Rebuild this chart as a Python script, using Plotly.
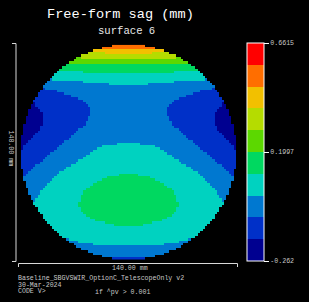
import plotly.graph_objects as go

W, H = 309, 302
FONT = "Liberation Mono"

BAND_COLORS = ["#000090", "#0030c8", "#0078d0", "#00d2c0", "#00d860",
               "#5cd800", "#b5dc00", "#f2c000", "#ff6e00", "#ff0000"]
SAG_MIN, SAG_MID, SAG_MAX = -0.262, 0.1997, 0.6615
BAND_SAG = [-0.216, -0.124, -0.031, 0.061, 0.154, 0.246, 0.338, 0.431, 0.523, 0.615]
TICK_LABELS = ["-0.262", "0.1997", "0.6615"]

TITLE = "Free-form sag (mm)"
SUBTITLE = "surface 6"
SCALE_LABEL = "140.00 mm"
FOOTER = ["Baseline_SBGVSWIR_OptionC_TelescopeOnly v2", "30-Mar-2024", "CODE V>"]
FOOTER_NOTE = "if ^pv > 0.001"

# first filled column of each row of the aperture (left half, the map is mirror-symmetric)
ROW_START = [38, 34, 30, 28, 25, 23, 22, 20, 19, 17, 16, 15, 14, 13, 12, 11, 10, 9, 9, 8,
             7, 7, 6, 5, 5, 4, 4, 3, 3, 3, 2, 2, 2, 1, 1, 1, 1, 1, 0, 0,
             0, 0, 0, 0, 0, 0, 0, 0, 0, 0, 0, 0, 1, 1, 1, 1, 1, 2, 2, 2,
             3, 3, 3, 4, 4, 5, 5, 6, 7, 7, 8, 9, 9, 10, 11, 12, 13, 14, 15, 16,
             17, 19, 20, 22, 23, 25, 28, 30, 34, 38]

# band, end column, band, end column ... for each row, left edge to centre
ROW_BANDS = [
    [8, 45], [8, 45], [7, 45], [6, 35, 7, 45], [6, 45], [5, 25, 6, 45], [5, 45], [5, 45],
    [4, 45], [4, 45], [4, 45], [3, 26, 4, 45], [3, 45], [3, 45], [2, 13, 3, 45],
    [2, 26, 3, 45], [2, 37, 3, 45], [2, 45], [1, 10, 2, 45], [1, 15, 2, 45],
    [1, 18, 2, 45], [1, 21, 2, 45], [1, 24, 2, 45], [1, 26, 2, 45],
    [0, 6, 1, 27, 2, 45], [0, 6, 1, 28, 2, 45], [0, 7, 1, 29, 2, 45], [0, 8, 1, 29, 2, 45],
    [0, 9, 1, 29, 2, 45], [0, 9, 1, 29, 2, 45], [0, 9, 1, 28, 2, 45], [0, 9, 1, 28, 2, 45],
    [0, 9, 1, 27, 2, 45], [0, 9, 1, 27, 2, 45], [0, 8, 1, 26, 2, 45], [0, 8, 1, 24, 2, 45],
    [0, 7, 1, 23, 2, 45], [0, 6, 1, 22, 2, 45], [0, 5, 1, 21, 2, 45], [0, 4, 1, 20, 2, 45],
    [0, 3, 1, 18, 2, 45], [0, 2, 1, 17, 2, 40, 3, 45], [0, 1, 1, 16, 2, 34, 3, 45],
    [0, 1, 1, 15, 2, 32, 3, 45], [1, 14, 2, 30, 3, 45], [1, 12, 2, 29, 3, 45],
    [1, 11, 2, 27, 3, 45], [1, 10, 2, 26, 3, 45], [1, 9, 2, 24, 3, 45], [1, 8, 2, 23, 3, 45],
    [1, 6, 2, 21, 3, 45], [1, 5, 2, 19, 3, 45], [1, 4, 2, 18, 3, 45], [1, 3, 2, 16, 3, 45],
    [1, 2, 2, 15, 3, 41, 4, 45], [2, 14, 3, 36, 4, 45], [2, 13, 3, 34, 4, 45],
    [2, 12, 3, 32, 4, 45], [2, 11, 3, 30, 4, 45], [2, 10, 3, 29, 4, 45], [2, 9, 3, 27, 4, 45],
    [2, 8, 3, 26, 4, 45], [2, 8, 3, 26, 4, 45], [2, 7, 3, 25, 4, 45], [2, 6, 3, 25, 4, 45],
    [2, 6, 3, 25, 4, 45], [3, 24, 4, 45], [3, 24, 4, 45], [3, 25, 4, 45], [3, 25, 4, 45],
    [3, 26, 4, 45], [3, 27, 4, 45], [3, 29, 4, 45], [3, 31, 4, 45], [3, 35, 4, 45],
    [3, 39, 4, 45], [3, 45], [3, 45], [3, 45], [3, 45], [3, 45], [2, 20, 3, 45],
    [2, 24, 3, 45], [2, 30, 3, 45], [2, 45], [2, 45], [2, 45], [2, 45], [2, 45], [1, 45],
]


def expand(start, runs):
    half = [None] * start
    for k in range(0, len(runs), 2):
        half += [BAND_SAG[runs[k]]] * (runs[k + 1] - len(half))
    return half + half[::-1]


z = [expand(s, r) for s, r in zip(ROW_START, ROW_BANDS)]

n = len(BAND_COLORS)
scale = []
for k, c in enumerate(BAND_COLORS):
    scale += [[k / n, c], [(k + 1) / n, c]]


def px(x):
    return x / W


def py(y):
    return 1 - y / H


fig = go.Figure(go.Heatmap(
    z=z, colorscale=scale, zmin=SAG_MIN, zmax=SAG_MAX, hoverinfo="skip",
    colorbar=dict(
        x=px(247), xanchor="left", xpad=0, y=py(152), yanchor="middle", ypad=0,
        lenmode="pixels", len=218, thicknessmode="pixels", thickness=17,
        outlinecolor="#ffffff", outlinewidth=1, bordercolor="#000000", borderwidth=0,
        tickmode="array", tickvals=[SAG_MIN, SAG_MID, SAG_MAX], ticktext=TICK_LABELS,
        ticks="outside", ticklen=5, tickcolor="#ffffff", tickwidth=1,
        tickfont=dict(family=FONT, size=6.6, color="#c8c8c8"),
    ),
))

LINE = dict(color="#d8d8d8", width=1)


def bracket(points):
    path = "M " + " L ".join(f"{px(a):.5f},{py(b):.5f}" for a, b in points)
    return dict(type="path", xref="paper", yref="paper", path=path, line=LINE)


def label(x, y, text, size, color="#c8c8c8", anchor="left", angle=0):
    return dict(x=px(x), y=py(y), xref="paper", yref="paper", text=text, showarrow=False,
                xanchor=anchor, yanchor="middle", textangle=angle,
                font=dict(family=FONT, size=size, color=color), borderpad=0, borderwidth=0)


fig.update_layout(
    width=W, height=H, autosize=False,
    margin=dict(l=0, r=0, t=0, b=0),
    paper_bgcolor="#000000", plot_bgcolor="#000000", showlegend=False,
    xaxis=dict(visible=False, domain=[px(21), px(236)], range=[-0.5, 89.5], fixedrange=True),
    yaxis=dict(visible=False, domain=[py(259.7), py(44.7)], range=[89.5, -0.5], fixedrange=True),
    shapes=[
        bracket([(12, 43.5), (16, 43.5), (16, 261.5), (12, 261.5)]),
        bracket([(18.5, 267), (18.5, 263.5), (237.5, 263.5), (237.5, 267)]),
    ],
    annotations=[
        label(120.5, 14, TITLE, 13.6, "#ffffff", "center"),
        label(126, 31, SUBTITLE, 10.6, "#e8e8e8", "center"),
        label(130, 268.8, SCALE_LABEL, 6.6, anchor="center"),
        label(10.5, 148, SCALE_LABEL, 6.6, anchor="center", angle=90),
        label(18, 278.7, FOOTER[0], 6.6),
        label(18, 285.2, FOOTER[1], 6.6),
        label(18, 291.7, FOOTER[2], 6.6),
        label(95, 291.7, FOOTER_NOTE, 6.6),
    ],
)

fig.write_html("out.html", config={"displayModeBar": False},
               post_script="document.body.style.margin='0';document.body.style.background='#000';"
                           "document.documentElement.style.overflow='hidden';")
